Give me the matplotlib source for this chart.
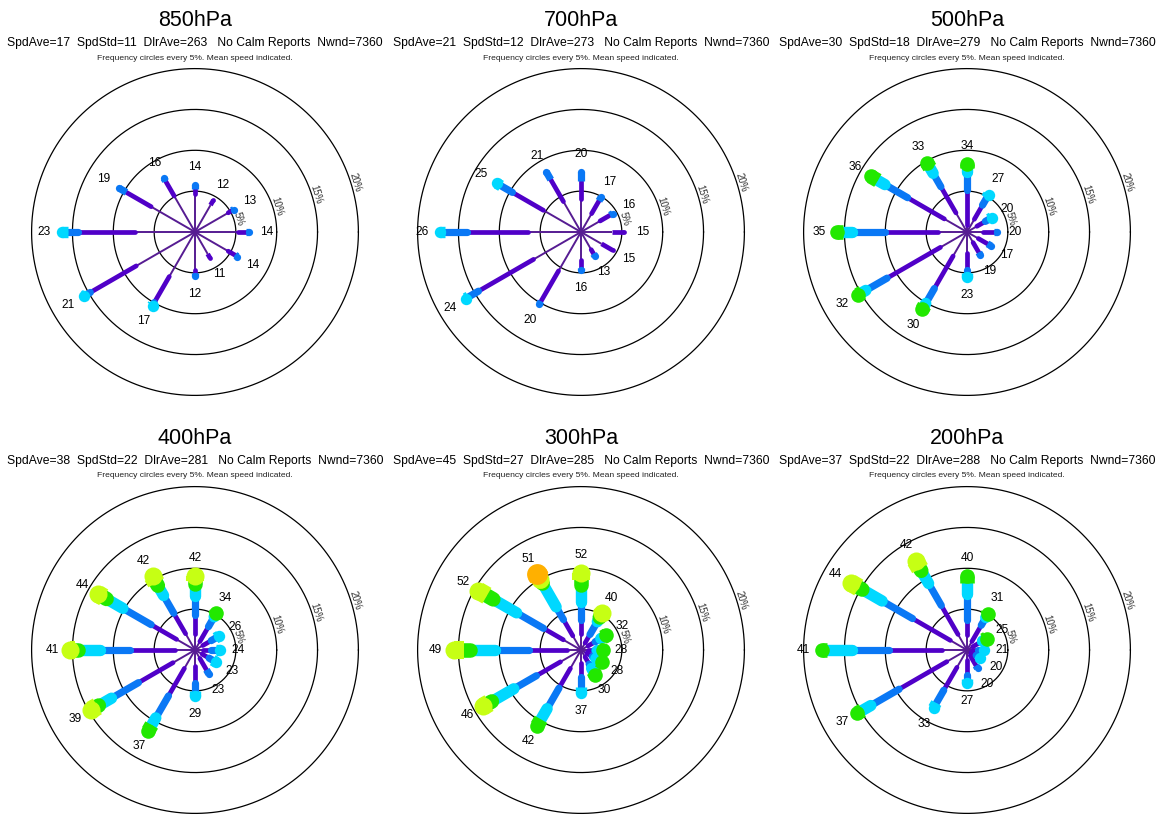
import numpy as np
import matplotlib
matplotlib.use("Agg")
import matplotlib.pyplot as plt

plt.rcParams['font.family'] = ['Liberation Sans', 'DejaVu Sans']

levels = ['850hPa', '700hPa', '500hPa', '400hPa', '300hPa', '200hPa']
spd_ave = [17, 21, 30, 38, 45, 37]
spd_std = [11, 12, 18, 22, 27, 22]
dir_ave = [263, 273, 279, 281, 285, 288]
nwnd = [7360, 7360, 7360, 7360, 7360, 7360]

# petal directions (deg clockwise from north)
directions = [0, 30, 60, 90, 120, 150, 180, 210, 240, 270, 300, 330]

# mean speed per direction
mean_spd = {
    '850hPa': [14, 12, 13, 14, 14, 11, 12, 17, 21, 23, 19, 16],
    '700hPa': [20, 17, 16, 15, 15, 13, 16, 20, 24, 26, 25, 21],
    '500hPa': [34, 27, 20, 20, 17, 19, 23, 30, 32, 35, 36, 33],
    '400hPa': [42, 34, 26, 24, 23, 23, 29, 37, 39, 41, 44, 42],
    '300hPa': [52, 40, 32, 28, 28, 30, 37, 42, 46, 49, 52, 51],
    '200hPa': [40, 31, 25, 21, 20, 20, 27, 33, 37, 41, 44, 42],
}

# cumulative frequency (%) at the top of each speed class, per direction
cum850 = [[4.7, 5.3, 5.8], [3.8, 4.5], [4.7, 5.2, 5.5], [5.3, 6.2, 6.6],
          [4.7, 5.7, 6.0], [3.1, 3.7], [4.65, 5.0, 5.4], [6.3, 10.0, 10.2, 10.4],
          [8.3, 14.8, 15.4, 15.7], [7.35, 14.3, 15.5, 16.3], [6.2, 9.7, 10.7],
          [5.1, 7.2, 7.6]]
cum700 = [[4.0, 6.2, 7.3], [2.6, 4.4, 4.9], [2.7, 4.1, 4.5], [3.8, 5.3],
          [2.9, 4.5], [2.5, 3.1, 3.4], [3.4, 4.4, 4.7], [5.5, 9.8, 10.2],
          [6.7, 14.5, 15.9, 16.3], [6.5, 14.0, 16.6, 17.2],
          [5.3, 9.7, 11.3, 11.9], [4.3, 7.4, 8.5]]
cum500 = [[0.8, 5.1, 7.3, 7.8, 8.3], [1.8, 3.8, 4.8, 5.3], [1.4, 2.6, 3.1, 3.5],
          [2.0, 3.3, 3.7], [1.6, 2.9, 3.4], [1.5, 2.9, 3.3], [2.6, 4.6, 5.0, 5.5],
          [3.4, 8.0, 10.1, 10.4, 10.9], [3.75, 11.3, 14.3, 14.8, 15.4],
          [3.5, 10.0, 14.1, 15.2, 15.9], [3.2, 8.4, 11.6, 12.6, 13.6],
          [2.7, 6.4, 8.3, 9.1, 9.8]]
cum400 = [[2.0, 4.3, 6.6, 8.1, 8.4, 9.0], [1.2, 3.3, 4.7, 4.8, 5.2],
          [1.1, 2.3, 2.9, 3.4], [1.0, 2.0, 2.6, 3.1], [1.0, 2.0, 2.5, 3.0],
          [1.2, 2.8, 3.4], [2.0, 4.1, 5.0, 5.6], [2.6, 6.5, 9.6, 10.6, 11.4],
          [3.1, 8.0, 11.8, 13.6, 13.8, 14.7], [2.45, 8.0, 11.6, 14.3, 14.7, 15.3],
          [2.6, 6.2, 10.2, 12.5, 12.9, 13.7], [2.3, 5.2, 7.7, 9.1, 9.5, 10.4]]
cum300 = [[2.0, 3.7, 5.9, 8.0, 8.6, 9.4], [1.0, 2.2, 4.0, 4.6, 4.8, 5.2],
          [1.0, 2.0, 2.8, 3.1, 3.6], [0.8, 1.6, 2.0, 2.3, 2.7],
          [0.8, 1.6, 2.1, 2.5, 2.9], [1.0, 2.0, 2.6, 3.0, 3.5],
          [1.6, 3.3, 4.5, 5.3], [2.6, 5.4, 8.3, 9.8, 10.7],
          [2.9, 6.3, 9.5, 12.6, 13.0, 13.8], [1.7, 6.4, 10.5, 13.6, 14.3, 15.6],
          [2.5, 5.3, 9.1, 12.4, 13.3, 14.5], [2.0, 4.3, 6.1, 9.4, 9.9, 10.2, 10.7]]
cum200 = [[1.8, 3.7, 6.9, 8.2, 9.0], [1.2, 3.5, 4.6, 4.8, 5.1],
          [0.8, 1.9, 2.2, 2.4, 2.8], [0.6, 1.4, 1.8, 2.1], [0.6, 1.3, 1.6, 1.9],
          [0.8, 2.2, 2.6], [1.2, 3.1, 3.6, 4.0], [2.45, 5.7, 7.5, 8.2],
          [2.85, 9.6, 13.6, 14.8, 15.5], [3.1, 9.6, 14.1, 17.1, 17.8],
          [2.35, 7.7, 12.0, 14.8, 15.3, 16.4], [2.2, 6.3, 9.4, 11.2, 11.5, 12.6]]
cum_freq = [cum850, cum700, cum500, cum400, cum300, cum200]

class_colors = ['#561c92', '#5000c8', '#0a78f5', '#00d8ff', '#22e800', '#c6ff14', '#ffb000']
class_widths = [1.4, 3.4, 5.2, 8.2, 10.5, 13.0, 15.0]
circles = [5, 10, 15, 20]

fig = plt.figure(figsize=(11.56, 8.15), dpi=100)
W, H = 1156, 815
centers = [(195, 232), (581, 232), (967, 232), (195, 650), (581, 650), (967, 650)]
scale = 8.17   # px per percent
half = 21.0

for i, lev in enumerate(levels):
    cx, cy = centers[i]
    hp = half * scale
    ax = fig.add_axes([(cx - hp) / W, 1 - (cy + hp) / H, 2 * hp / W, 2 * hp / H])
    ax.set_xlim(-half, half)
    ax.set_ylim(-half, half)
    ax.axis('off')

    t = np.linspace(0, 2 * np.pi, 400)
    for r in circles:
        ax.plot(r * np.cos(t), r * np.sin(t), color='black', lw=0.9, zorder=1)
        a = np.deg2rad(17)
        ax.text((r + 0.55) * np.cos(a), (r + 0.55) * np.sin(a), f'{r}%',
                rotation=-73, rotation_mode='anchor', ha='center', va='center',
                fontsize=7, color='#333333', zorder=1)

    cum = cum_freq[i]
    nclass = max(len(c) for c in cum)
    for k in range(nclass):
        for d, bounds in zip(directions, cum):
            if k >= len(bounds):
                continue
            r0 = 0.0 if k == 0 else bounds[k - 1]
            r1 = bounds[k]
            if r1 <= r0:
                continue
            th = np.deg2rad(d)
            last = (k == len(bounds) - 1)
            cap = 'round' if (k > 0 and not last) else 'butt'
            ax.plot([r0 * np.sin(th), r1 * np.sin(th)],
                    [r0 * np.cos(th), r1 * np.cos(th)],
                    color=class_colors[k], lw=class_widths[k],
                    solid_capstyle=cap, zorder=2 + k)
            if k > 0 and last:
                # rounded end of the petal
                ax.plot(r1 * np.sin(th), r1 * np.cos(th), 'o', ms=class_widths[k],
                        mec='none', color=class_colors[k], zorder=2 + k)

    for d, bounds, s in zip(directions, cum, mean_spd[lev]):
        th = np.deg2rad(d)
        rl = bounds[-1] + 2.2
        ax.text(rl * np.sin(th), rl * np.cos(th), str(s), ha='center', va='center',
                fontsize=8.6, color='black', zorder=20)

    fig.text(cx / W, 1 - (cy - 212) / H, lev, ha='center', va='center', fontsize=15.5)
    stats = (f'SpdAve={spd_ave[i]}  SpdStd={spd_std[i]}  DlrAve={dir_ave[i]}   '
             f'No Calm Reports  Nwnd={nwnd[i]}')
    fig.text(cx / W, 1 - (cy - 189) / H, stats, ha='center', va='center', fontsize=8.7)
    fig.text(cx / W, 1 - (cy - 174) / H, 'Frequency circles every 5%. Mean speed indicated.',
             ha='center', va='center', fontsize=6.1, color='#222222')

fig.savefig('out.png', dpi=100, facecolor='white')
